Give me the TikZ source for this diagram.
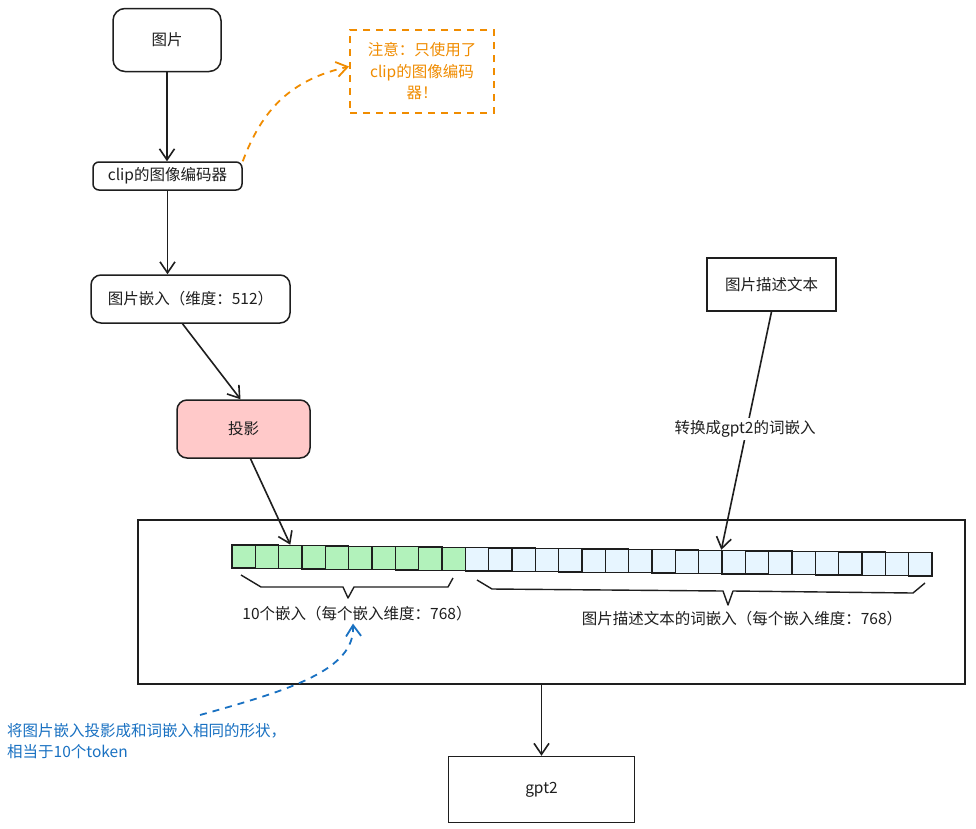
\documentclass[tikz,border=0pt]{standalone}
\usepackage{fontspec}
\setmainfont{Noto Sans CJK SC}
\usetikzlibrary{arrows.meta}
\definecolor{ink}{HTML}{1e1e1e}
\definecolor{orangec}{HTML}{f08c00}
\definecolor{bluec}{HTML}{1971c2}
\definecolor{pinkc}{HTML}{ffc9c9}
\definecolor{greenc}{HTML}{b2f2bb}
\definecolor{lightbluec}{HTML}{e7f5ff}
\begin{document}
\begin{tikzpicture}[x=1pt,y=-1pt,
  font=\fontsize{15.5}{21.5}\selectfont,
  box/.style={draw=ink, line width=1.5pt, fill=white, inner sep=0pt, align=center, text=ink},
  arr/.style={draw=ink, line width=1.6pt, -{Straight Barb[length=11pt,width=15pt,line width=1.6pt]}},
  sqbox/.style={draw=ink, line width=1.4pt, minimum size=23.3pt, inner sep=0pt},
  bracepath/.style={draw=ink, line width=1.4pt, line join=round},
  plain/.style={inner sep=2pt, text=ink}]
\useasboundingbox (0,0) rectangle (976,828);
\fill[white] (0,0) rectangle (976,828);

% boxes
\node[box, rounded corners=12pt, minimum width=108pt, minimum height=63pt] (img) at (167,40) {图片};
\node[box, rounded corners=6pt, minimum width=149pt, minimum height=28pt] (enc) at (167.5,176) {clip的图像编码器};
\node[box, rounded corners=10pt, minimum width=199pt, minimum height=48pt] (emb) at (190.5,299) {图片嵌入（维度：512）};
\node[box, fill=pinkc, rounded corners=10pt, minimum width=133pt, minimum height=58pt] (proj) at (243.5,429) {投影};
\node[draw=orangec, line width=1.8pt, dash pattern=on 7pt off 6pt, minimum width=144pt, minimum height=83pt,
      text=orangec, align=center, inner sep=0pt] (note) at (422,71.5) {注意：只使用了\\clip的图像编码\\器！};
\node[box, minimum width=129pt, minimum height=53pt] (desc) at (771.5,284.5) {图片描述文本};
\node[draw=ink, line width=1.5pt, minimum width=827pt, minimum height=164pt, inner sep=0pt] (frame) at (551.5,602) {};
\node[box, minimum width=186pt, minimum height=66pt] (gpt) at (541.5,789.5) {gpt2};

% squares
\foreach \i in {0,...,9}{
  \pgfmathsetmacro\xx{232+23.333*\i+11.667}
  \pgfmathsetmacro\yy{556.5+0.27*\i}
  \node[sqbox, fill=greenc] (sq\i) at (\xx,\yy) {};
}
\foreach \i in {10,...,29}{
  \pgfmathsetmacro\xx{232+23.333*\i+11.667}
  \pgfmathsetmacro\yy{556.5+0.27*\i}
  \node[sqbox, fill=lightbluec] (sq\i) at (\xx,\yy) {};
}

% braces
\draw[bracepath] (241,575) -- (261,587) -- (343,587) -- (348,598) -- (354,587) -- (448,587) -- (453,578);
\draw[bracepath] (477,580) -- (492,589) -- (723,591) -- (728,605) -- (733,591) -- (913,593) -- (925,583);

% labels
\node[plain] (lab1) at (357,614) {10个嵌入（每个嵌入维度：768）};
\node[plain] (lab2) at (742,619) {图片描述文本的词嵌入（每个嵌入维度：768）};
\node[plain, text=bluec, align=left, anchor=west] (lab4) at (5,741) {将图片嵌入投影成和词嵌入相同的形状，\\相当于10个token};

% connectors
\draw[arr] (img.south) -- (img.south |- enc.north);
\draw[arr] (enc.south) -- (enc.south |- emb.north);
\draw[arr] ([xshift=-8pt]emb.south) -- ([xshift=-3pt]proj.north);
\draw[arr] ([xshift=7pt]proj.south) -- (sq2.north);
\draw[arr] (desc.south) -- (sq21.north west);
\node[plain, fill=white, inner sep=3pt] (lab3) at (745,429) {转换成gpt2的词嵌入};
\draw[arr] (gpt.north |- frame.south) -- (gpt.north);

% dashed annotations
\draw[draw=orangec, line width=1.8pt, dash pattern=on 7pt off 6pt,
      -{Straight Barb[length=11pt,width=15pt,line width=1.8pt]}]
  (enc.north east) .. controls (262,110) and (290,80) .. ([yshift=5pt]note.west);
\coordinate (bstart) at (200,715);
\draw[draw=bluec, line width=1.8pt, dash pattern=on 7pt off 6pt,
      -{Straight Barb[length=11pt,width=15pt,line width=1.8pt]}]
  (bstart) .. controls (290,690) and (355,670) .. ([xshift=-4pt]lab1.south);
\end{tikzpicture}
\end{document}
